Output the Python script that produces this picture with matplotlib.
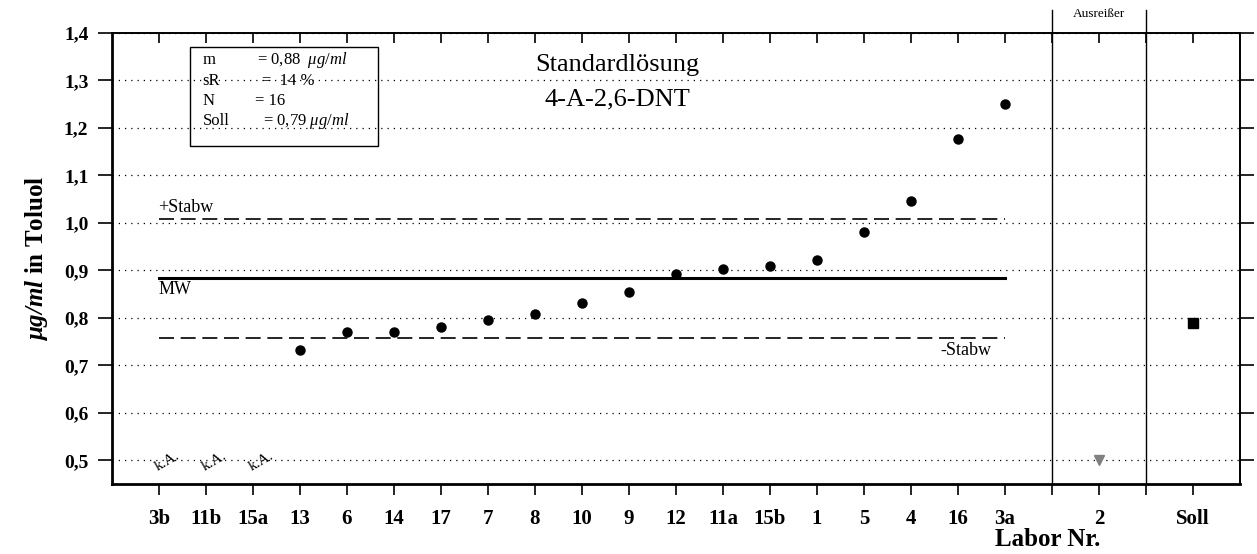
import matplotlib
matplotlib.use("Agg")
import matplotlib.pyplot as plt
from matplotlib.patches import Rectangle

plt.rcParams['font.family'] = ['Liberation Serif', 'DejaVu Serif']
plt.rcParams['mathtext.fontset'] = 'custom'
plt.rcParams['mathtext.rm'] = 'Liberation Serif'
plt.rcParams['mathtext.it'] = 'Liberation Serif:italic'
plt.rcParams['mathtext.bf'] = 'Liberation Serif:bold'
plt.rcParams['mathtext.bfit'] = 'Liberation Serif:italic:bold'

# data
labs = ['3b', '11b', '15a', '13', '6', '14', '17', '7', '8', '10', '9',
        '12', '11a', '15b', '1', '5', '4', '16', '3a']
vals = [None, None, None, 0.733, 0.771, 0.771, 0.781, 0.796, 0.809, 0.832,
        0.854, 0.892, 0.902, 0.910, 0.921, 0.981, 1.046, 1.177, 1.250]
out_lab = '2'
out_val = 0.5
soll_val = 0.79
mw = 0.883
stabw = 0.126
box_keys = ['m', 'sR', 'N', 'Soll']
box_vals = ['= 0,88  $\\mathit{\\mu g/ml}$', '=  14 %', '= 16',
            '= 0,79 $\\mathit{\\mu g/ml}$']

W, H = 1257, 554
fig = plt.figure(figsize=(W / 100, H / 100), dpi=100)
ax = fig.add_axes([112 / W, 1 - 484 / H, (1240 - 112) / W, (484 - 33) / H])

n = len(labs)
xs = list(range(1, n + 1))
x_out = n + 2
x_soll = n + 4

# lab points
px = [x for x, v in zip(xs, vals) if v is not None]
py = [v for v in vals if v is not None]
ax.plot(px, py, 'o', color='black', markersize=6.5, zorder=5)
for x, v in zip(xs, vals):
  if v is None:
    ax.text(x + 0.17, 0.497, 'k.A.', rotation=30, fontsize=11,
            ha='center', va='center')

ax.plot([x_out], [out_val], 'v', color='#808080', markersize=7, zorder=5,
        clip_on=False)
ax.plot([x_soll], [soll_val], 's', color='black', markersize=6.5, zorder=5)

# mean / stdev lines
ax.plot([1, n], [mw, mw], color='black', linewidth=2.2)
ax.plot([1, n], [mw + stabw] * 2, color='black', linewidth=1.2,
        dashes=(9, 4))
ax.plot([1, n], [mw - stabw] * 2, color='black', linewidth=1.2,
        dashes=(9, 4))
ax.text(0.98, mw + stabw + 0.006, '+Stabw', fontsize=13, ha='left',
        va='bottom')
ax.text(0.98, mw - 0.006, 'MW', fontsize=13, ha='left', va='top')
ax.text(n - 0.3, mw - stabw - 0.008, '-Stabw', fontsize=13, ha='right',
        va='top')

# separator lines for outlier section
for xv in (n + 1, n + 3):
  ax.axvline(xv, ymin=0, ymax=1.051, color='black', linewidth=1.0,
             clip_on=False)
ax.text(x_out, 1.44, 'Ausreißer', fontsize=9.5, ha='center', va='center')

# axes
ax.set_xlim(0, n + 5)
ax.set_ylim(0.45, 1.4)
ax.set_xticks(list(range(1, n + 5)))
ax.set_xticklabels(labs + ['', out_lab, '', 'Soll'], fontsize=15,
                   fontweight='bold')
yt = [0.5 + 0.1 * i for i in range(10)]
ax.set_yticks(yt)
ax.set_yticklabels([('%.1f' % t).replace('.', ',') for t in yt],
                   fontsize=14, fontweight='bold')
ax.tick_params(axis='x', direction='out', length=8, width=1.2, pad=10,
               top=True, labeltop=False)
ax.tick_params(axis='y', direction='out', length=10, width=1.2, pad=7,
               right=True)
# top ticks point inwards
for t in ax.xaxis.get_major_ticks():
  t.tick2line.set_marker(3)
  t.tick2line.set_markersize(7)
ax.yaxis.grid(True, linestyle=(0, (1, 4)), color='black', linewidth=0.9)
ax.set_axisbelow(True)
for s in ax.spines.values():
  s.set_linewidth(1.4)
ax.spines['left'].set_linewidth(2)
ax.spines['bottom'].set_linewidth(2)

# title text
ax.text(10.75, 1.332, 'Standardlösung', fontsize=19, ha='center',
        va='center')
ax.text(10.75, 1.259, '4-A-2,6-DNT', fontsize=19, ha='center', va='center')

# info box
ax.add_patch(Rectangle((1.66, 1.162), 4.0, 0.209, fill=False,
                       edgecolor='black', linewidth=1.0, zorder=6))
eq_x = [3.09, 3.19, 3.04, 3.21]
row_y = [1.343, 1.299, 1.256, 1.214]
for k, v, ex, yv in zip(box_keys, box_vals, eq_x, row_y):
  ax.text(1.93, yv, k, fontsize=12, ha='left', va='center')
  ax.text(ex, yv, v, fontsize=12, ha='left', va='center')

ax.set_ylabel('$\\mathbfit{\\mu g/ml}$ in Toluol', fontsize=18,
              fontweight='bold', labelpad=10)
fig.text(1048 / W, 1 - 540 / H, 'Labor Nr.', fontsize=18, fontweight='bold',
         ha='center', va='center')

fig.savefig('out.png', dpi=100)
